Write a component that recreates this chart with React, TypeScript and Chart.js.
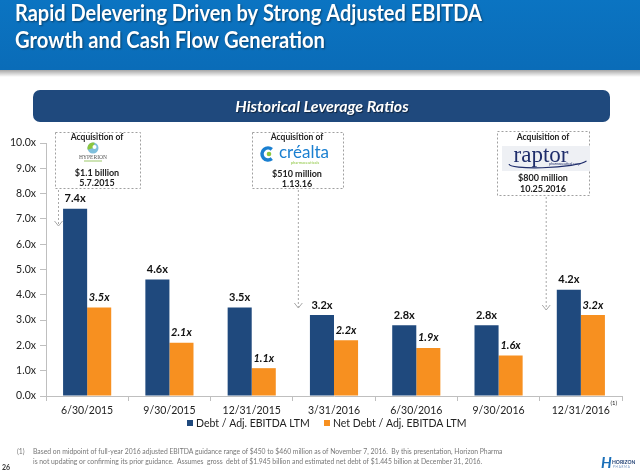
import React, { useEffect, useRef } from 'react';
import { Chart, registerables } from 'chart.js';

Chart.register(...registerables);

const categories = ['6/30/2015', '9/30/2015', '12/31/2015', '3/31/2016', '6/30/2016', '9/30/2016', '12/31/2016'];
const debtRatio = [7.4, 4.6, 3.5, 3.2, 2.8, 2.8, 4.2];
const netDebtRatio = [3.5, 2.1, 1.1, 2.2, 1.9, 1.6, 3.2];
const seriesNames = ['Debt / Adj. EBITDA LTM', 'Net Debt / Adj. EBITDA LTM'];
const yMin = 0;
const yMax = 10;
const yStep = 1;
const titleLines = ['Rapid Delevering Driven by Strong Adjusted EBITDA', 'Growth and Cash Flow Generation'];
const bannerText = 'Historical Leverage Ratios';
const acquisitionPrices = ['$1.1 billion', '$510 million', '$800 million'];
const acquisitionDates = ['5.7.2015', '1.13.16', '10.25.2016'];
const footnoteMark = '(1)';
const footnoteLines = [
  'Based on midpoint of full-year 2016 adjusted EBITDA guidance range of $450 to $460 million as of November 7, 2016.  By this presentation, Horizon Pharma',
  'is not updating or confirming its prior guidance.  Assumes  gross  debt of $1.945 billion and estimated net debt of $1.445 billion at December 31, 2016.',
];
const pageNumber = '26';

const NAVY = '#1f497d';
const ORANGE = '#f79020';
const FONT = 'Lato, "Noto Sans", sans-serif';
const GRID = '#bfbfbf';

function dashedBox(ctx: CanvasRenderingContext2D, x: number, y: number, w: number, h: number) {
  ctx.save();
  ctx.setLineDash([2, 2]);
  ctx.strokeStyle = '#a0a0a0';
  ctx.lineWidth = 1;
  ctx.strokeRect(x + 0.5, y + 0.5, w, h);
  ctx.restore();
}

function dashedArrow(ctx: CanvasRenderingContext2D, x: number, y1: number, y2: number) {
  ctx.save();
  ctx.strokeStyle = '#a8a8a8';
  ctx.lineWidth = 1;
  ctx.setLineDash([2, 2]);
  ctx.beginPath();
  ctx.moveTo(x + 0.5, y1);
  ctx.lineTo(x + 0.5, y2);
  ctx.stroke();
  ctx.setLineDash([]);
  ctx.beginPath();
  ctx.moveTo(x - 3.5, y2 - 5);
  ctx.lineTo(x + 0.5, y2);
  ctx.lineTo(x + 4.5, y2 - 5);
  ctx.stroke();
  ctx.restore();
}

function centerText(ctx: CanvasRenderingContext2D, text: string, x: number, y: number, font: string, color: string) {
  ctx.font = font;
  ctx.fillStyle = color;
  ctx.textAlign = 'center';
  ctx.textBaseline = 'middle';
  ctx.fillText(text, x, y);
}

const decorPlugin = {
  id: 'decor',
  beforeDraw(chart: any) {
    const ctx: CanvasRenderingContext2D = chart.ctx;
    ctx.save();
    ctx.fillStyle = '#ffffff';
    ctx.fillRect(0, 0, chart.width, chart.height);

    // title bar
    const g = ctx.createLinearGradient(0, 0, 0, 70);
    g.addColorStop(0, '#0b74c2');
    g.addColorStop(1, '#0a6cb8');
    ctx.fillStyle = g;
    ctx.fillRect(0, 0, chart.width, 70);
    const sh = ctx.createLinearGradient(0, 70, 0, 77);
    sh.addColorStop(0, 'rgba(0,0,0,0.35)');
    sh.addColorStop(1, 'rgba(0,0,0,0)');
    ctx.fillStyle = sh;
    ctx.fillRect(0, 70, chart.width, 7);

    ctx.save();
    ctx.shadowColor = 'rgba(0,0,0,0.45)';
    ctx.shadowOffsetX = 1;
    ctx.shadowOffsetY = 1;
    ctx.shadowBlur = 2;
    ctx.fillStyle = '#ffffff';
    ctx.font = `bold 22px ${FONT}`;
    ctx.textAlign = 'left';
    ctx.textBaseline = 'alphabetic';
    ctx.fillText(titleLines[0], 15, 21, 467);
    ctx.fillText(titleLines[1], 15, 48, 310);
    ctx.restore();

    // banner
    ctx.fillStyle = NAVY;
    ctx.beginPath();
    (ctx as any).roundRect(33, 90, 577, 32, 7);
    ctx.fill();
    ctx.save();
    ctx.shadowColor = 'rgba(0,0,0,0.5)';
    ctx.shadowOffsetX = 1;
    ctx.shadowOffsetY = 1;
    ctx.shadowBlur = 1;
    ctx.fillStyle = '#ffffff';
    ctx.font = `italic bold 16px ${FONT}`;
    ctx.textAlign = 'center';
    ctx.textBaseline = 'alphabetic';
    ctx.fillText(bannerText, 322, 112, 192);
    ctx.restore();

    // acquisition boxes
    const xs = chart.scales.x;
    const half = (xs.getPixelForValue(1) - xs.getPixelForValue(0)) / 2;
    const boundary = (i: number) => xs.getPixelForValue(i) - half;

    // Box 1: Hyperion
    dashedBox(ctx, 55, 132, 85, 56);
    centerText(ctx, 'Acquisition of', 97, 137, `bold 8.5px ${FONT}`, '#222');
    ctx.beginPath();
    ctx.fillStyle = '#7fbfdc';
    ctx.arc(93, 148, 5.5, 0, Math.PI * 2);
    ctx.fill();
    ctx.beginPath();
    ctx.fillStyle = '#8cc63f';
    ctx.arc(93, 148, 5.5, Math.PI * 0.9, Math.PI * 1.6);
    ctx.lineTo(93, 148);
    ctx.fill();
    ctx.beginPath();
    ctx.fillStyle = '#ffffff';
    ctx.arc(94.5, 147, 2, 0, Math.PI * 2);
    ctx.fill();
    centerText(ctx, 'HYPERION', 93, 157.5, `5.5px "Liberation Serif", serif`, '#555');
    ctx.fillStyle = '#9cc86a';
    ctx.fillRect(84, 160.5, 18, 1);
    centerText(ctx, acquisitionPrices[0], 97, 173, `bold 9px ${FONT}`, '#222');
    centerText(ctx, acquisitionDates[0], 97, 183.5, `bold 9px ${FONT}`, '#222');
    dashedArrow(ctx, boundary(0) + 12, 190, 226);

    // Box 2: Crealta
    dashedBox(ctx, 252, 132, 91, 56);
    centerText(ctx, 'Acquisition of', 297, 137, `bold 8.5px ${FONT}`, '#222');
    ctx.beginPath();
    ctx.strokeStyle = '#1a7fd0';
    ctx.lineWidth = 3.5;
    ctx.arc(268, 154, 6, Math.PI * 0.28, Math.PI * 1.72);
    ctx.stroke();
    ctx.beginPath();
    ctx.fillStyle = '#8cc63f';
    ctx.arc(269, 154, 2.3, 0, Math.PI * 2);
    ctx.fill();
    ctx.font = `17px ${FONT}`;
    ctx.fillStyle = '#1a7fd0';
    ctx.textAlign = 'left';
    ctx.textBaseline = 'alphabetic';
    ctx.fillText('créalta', 279, 158, 50);
    centerText(ctx, 'pharmaceuticals', 305, 162.5, `4px ${FONT}`, '#8cc63f');
    centerText(ctx, acquisitionPrices[1], 297, 174, `bold 9px ${FONT}`, '#222');
    centerText(ctx, acquisitionDates[1], 297, 184.5, `bold 9px ${FONT}`, '#222');
    dashedArrow(ctx, boundary(3) + 5, 190, 308);

    // Box 3: Raptor
    dashedBox(ctx, 497, 131, 92, 64);
    centerText(ctx, 'Acquisition of', 543, 137, `bold 8.5px ${FONT}`, '#222');
    ctx.fillStyle = '#eef0f4';
    ctx.fillRect(502, 146, 88, 25);
    ctx.font = `23px "Liberation Serif", "DejaVu Serif", serif`;
    ctx.fillStyle = '#1f2d6b';
    ctx.textAlign = 'center';
    ctx.textBaseline = 'alphabetic';
    ctx.fillText('raptor', 541, 162, 66);
    ctx.save();
    ctx.strokeStyle = '#1f2d6b';
    ctx.lineWidth = 1.2;
    ctx.beginPath();
    ctx.ellipse(548, 162, 39, 5.5, -0.05, Math.PI * 0.05, Math.PI * 1.0);
    ctx.stroke();
    ctx.restore();
    centerText(ctx, 'pharmaceutical corp.', 565, 164, `3.5px ${FONT}`, '#1f2d6b');
    centerText(ctx, acquisitionPrices[2], 543, 178, `bold 9px ${FONT}`, '#222');
    centerText(ctx, acquisitionDates[2], 543, 189.5, `bold 9px ${FONT}`, '#222');
    dashedArrow(ctx, boundary(6) + 6, 197, 310);

    ctx.restore();
  },
  afterDatasetsDraw(chart: any) {
    const ctx: CanvasRenderingContext2D = chart.ctx;
    ctx.save();
    const fonts = [`bold 11px ${FONT}`, `italic bold 11px ${FONT}`];
    chart.data.datasets.forEach((ds: any, di: number) => {
      const meta = chart.getDatasetMeta(di);
      meta.data.forEach((bar: any, i: number) => {
        centerText(ctx, `${ds.data[i].toFixed(1)}x`, bar.x, bar.y - 10, fonts[di], '#111');
      });
    });
    ctx.restore();
  },
  afterDraw(chart: any) {
    const ctx: CanvasRenderingContext2D = chart.ctx;
    ctx.save();
    // superscript on last category
    const xs = chart.scales.x;
    ctx.font = `10.5px ${FONT}`;
    const last = categories.length - 1;
    const w = ctx.measureText(categories[last]).width;
    ctx.font = `6px ${FONT}`;
    ctx.fillStyle = '#222';
    ctx.textAlign = 'left';
    ctx.textBaseline = 'middle';
    ctx.fillText(footnoteMark, xs.getPixelForValue(last) + w / 2 + 0.5, 403);

    // legend
    const colors = [NAVY, ORANGE];
    const legendX = [187, 324];
    ctx.font = `10.5px ${FONT}`;
    seriesNames.forEach((name, i) => {
      ctx.fillStyle = colors[i];
      ctx.fillRect(legendX[i], 420, 6, 6);
      ctx.fillStyle = '#222';
      ctx.textAlign = 'left';
      ctx.textBaseline = 'middle';
      ctx.fillText(name, legendX[i] + 9, 423.5);
    });

    // footnote
    ctx.fillStyle = '#777';
    ctx.textBaseline = 'middle';
    ctx.font = `6.8px ${FONT}`;
    ctx.fillText(footnoteMark, 17, 452);
    ctx.fillText(footnoteLines[0], 33, 452, 494);
    ctx.fillText(footnoteLines[1], 33, 462, 488);

    ctx.font = `bold 7px ${FONT}`;
    ctx.fillStyle = '#333';
    ctx.fillText(pageNumber, 2, 468);

    // Horizon logo
    ctx.font = `italic bold 15px ${FONT}`;
    ctx.fillStyle = '#1a6fb8';
    ctx.fillText('H', 601, 463);
    ctx.font = `bold 5px ${FONT}`;
    ctx.fillStyle = '#1f3f73';
    ctx.fillText('HORIZON', 612, 462);
    ctx.font = `3px ${FONT}`;
    ctx.fillStyle = '#6b8fbf';
    ctx.fillText('P H A R M A', 613, 467);
    ctx.restore();
  },
};

export default function App() {
  const canvasRef = useRef<HTMLCanvasElement>(null);

  useEffect(() => {
    document.body.style.margin = '0';
    const canvas = canvasRef.current;
    if (!canvas) return;
    const chart = new Chart(canvas, {
      type: 'bar',
      data: {
        labels: categories,
        datasets: [
          { label: seriesNames[0], data: debtRatio, backgroundColor: NAVY },
          { label: seriesNames[1], data: netDebtRatio, backgroundColor: ORANGE },
        ],
      },
      options: {
        animation: false,
        responsive: false,
        maintainAspectRatio: false,
        layout: { padding: { top: 143, left: 0, right: 18, bottom: 56 } },
        datasets: { bar: { barPercentage: 1, categoryPercentage: 0.585 } },
        plugins: {
          legend: { display: false },
          title: { display: false },
          tooltip: { enabled: false },
        },
        scales: {
          x: {
            grid: { display: true, drawOnChartArea: false, tickLength: 5, color: GRID, offset: true },
            border: { color: GRID },
            ticks: { font: { family: FONT, size: 10.5 }, color: '#222', padding: 3, maxRotation: 0, autoSkip: false },
            afterFit: (s: any) => { s.height = 20; },
          },
          y: {
            min: yMin,
            max: yMax,
            grid: { drawOnChartArea: false, tickLength: 6, color: GRID },
            border: { color: GRID },
            ticks: {
              stepSize: yStep,
              font: { family: FONT, size: 10.5 },
              color: '#222',
              padding: 4,
              callback: (v: any) => `${Number(v).toFixed(1)}x`,
            },
            afterFit: (s: any) => { s.width = 46; },
          },
        },
      },
      plugins: [decorPlugin],
    });
    return () => chart.destroy();
  }, []);

  return (
    <div style={{ width: 640, height: 472 }}>
      <canvas ref={canvasRef} width={640} height={472} style={{ display: 'block', width: 640, height: 472 }} />
    </div>
  );
}
